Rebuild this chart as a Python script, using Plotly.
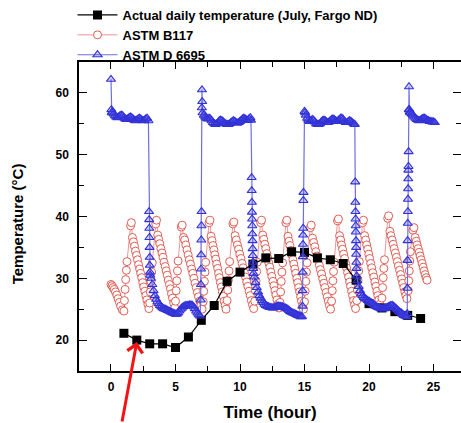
import plotly.graph_objects as go

# ---------------------------------------------------------------------------
# Actual hourly temperature, July, Fargo ND
actual_hour = [1, 2, 3, 4, 5, 6, 7, 8, 9, 10, 11, 12,
               13, 14, 15, 16, 17, 18, 19, 20, 21, 22, 23, 24]
actual_temp = [21.1, 20.0, 19.4, 19.4, 18.8, 20.5, 23.2, 25.6, 29.5, 31.0, 32.3, 33.3,
               33.2, 34.3, 34.2, 33.3, 33.0, 32.4, 29.7, 25.9, 25.2, 24.6, 24.0, 23.5]

# ASTM B117 cabinet log (time in hours, temperature in deg C)
b117_time = [
    0.00, 0.08, 0.16, 0.25, 0.35, 0.45, 0.55, 0.65, 0.75, 0.88, 1.00,
    1.04, 1.09, 1.14, 1.19, 1.24, 1.52, 1.58,
    1.66, 1.74, 1.82, 1.90, 1.98, 2.06, 2.14, 2.22, 2.30, 2.38, 2.46, 2.54, 2.62, 2.70, 2.78, 2.86, 2.94,
    3.00, 3.05, 3.10, 3.15, 3.20, 3.47, 3.53,
    3.62, 3.70, 3.78, 3.87, 3.95, 4.03, 4.11, 4.20, 4.28, 4.36, 4.44, 4.53, 4.61, 4.69, 4.77, 4.86, 4.94,
    5.00, 5.05, 5.10, 5.15, 5.20, 5.45, 5.52,
    5.62, 5.71, 5.80, 5.89, 5.98, 6.07, 6.16, 6.25, 6.34, 6.43, 6.52, 6.61, 6.70, 6.79, 6.88, 6.97, 7.06,
    7.14, 7.19, 7.24, 7.29, 7.34, 7.60, 7.67,
    7.76, 7.83, 7.90, 7.98, 8.05, 8.12, 8.19, 8.27, 8.34, 8.41, 8.48, 8.56, 8.63, 8.70, 8.77, 8.85, 8.92,
    9.00, 9.05, 9.10, 9.15, 9.20, 9.45, 9.52,
    9.62, 9.71, 9.80, 9.89, 9.98, 10.07, 10.16, 10.25, 10.34, 10.43, 10.52, 10.61, 10.70, 10.79, 10.88, 10.97, 11.06,
    11.14, 11.19, 11.24, 11.29, 11.34, 11.60, 11.67,
    11.76, 11.84, 11.92, 12.00, 12.08, 12.15, 12.23, 12.31, 12.39, 12.47, 12.55, 12.63, 12.71, 12.78, 12.86, 12.94, 13.02,
    13.10, 13.15, 13.20, 13.25, 13.30, 13.56, 13.63,
    13.72, 13.80, 13.87, 13.95, 14.02, 14.10, 14.17, 14.25, 14.32, 14.40, 14.47, 14.55, 14.62, 14.70, 14.77, 14.85, 14.92,
    15.00, 15.05, 15.10, 15.15, 15.20, 15.45, 15.52,
    15.62, 15.71, 15.80, 15.88, 15.97, 16.06, 16.15, 16.23, 16.32, 16.41, 16.50, 16.58, 16.67, 16.76, 16.85, 16.93, 17.02,
    17.10, 17.15, 17.20, 17.25, 17.30, 17.56, 17.63,
    17.72, 17.80, 17.87, 17.95, 18.03, 18.11, 18.19, 18.26, 18.34, 18.42, 18.50, 18.57, 18.65, 18.73, 18.81, 18.88, 18.96,
    19.05, 19.10, 19.15, 19.20, 19.25, 19.50, 19.57,
    19.66, 19.74, 19.82, 19.90, 19.98, 20.05, 20.13, 20.21, 20.29, 20.37, 20.45, 20.53, 20.61, 20.68, 20.76, 20.84, 20.92,
    21.00, 21.05, 21.10, 21.15, 21.20, 21.45, 21.52,
    21.62, 21.70, 21.79, 21.87, 21.95, 22.04, 22.12, 22.20, 22.28, 22.37, 22.45, 22.53, 22.61, 22.70, 22.78, 22.86, 22.94,
    23.04, 23.08, 23.12, 23.16, 23.20, 23.40, 23.48,
    23.58, 23.66, 23.73, 23.81, 23.89, 23.96, 24.04, 24.12, 24.20, 24.27, 24.35, 24.43, 24.50,
]
b117_temp = [
    29.0, 28.8, 28.5, 28.2, 27.8, 27.3, 26.7, 26.1, 25.5, 24.9, 24.7,
    26.4, 28.2, 29.8, 31.3, 32.7, 38.5, 39.0,
    36.6, 35.9, 35.2, 34.4, 33.7, 33.0, 32.2, 31.5, 30.8, 30.1, 29.3, 28.6, 27.9, 27.2, 26.5, 25.8, 25.1,
    26.0, 27.8, 29.5, 31.0, 32.5, 38.8, 39.4,
    37.0, 36.3, 35.6, 34.8, 34.1, 33.4, 32.6, 31.9, 31.2, 30.5, 29.7, 29.0, 28.3, 27.5, 26.8, 26.0, 25.2,
    26.3, 28.0, 29.6, 31.2, 32.8, 38.3, 38.6,
    36.6, 36.2, 35.4, 34.6, 33.8, 33.0, 32.3, 31.5, 30.8, 30.0, 29.2, 28.5, 27.7, 27.0, 26.3, 25.6, 25.0,
    26.2, 27.9, 29.5, 31.0, 32.6, 39.0, 39.4,
    36.8, 36.1, 35.3, 34.6, 33.8, 33.1, 32.3, 31.6, 30.8, 30.1, 29.3, 28.6, 27.8, 27.1, 26.3, 25.6, 25.0,
    26.4, 28.1, 29.7, 31.2, 32.7, 38.8, 39.1,
    36.9, 36.2, 35.4, 34.7, 33.9, 33.2, 32.4, 31.7, 30.9, 30.2, 29.4, 28.7, 27.9, 27.2, 26.4, 25.7, 25.1,
    26.3, 28.0, 29.6, 31.1, 32.6, 39.0, 39.4,
    37.0, 36.3, 35.5, 34.8, 34.0, 33.3, 32.5, 31.8, 31.0, 30.3, 29.5, 28.8, 28.0, 27.3, 26.5, 25.8, 25.2,
    26.1, 27.8, 29.5, 31.0, 32.5, 39.0, 39.4,
    36.8, 36.0, 35.3, 34.5, 33.8, 33.0, 32.3, 31.5, 30.8, 30.0, 29.3, 28.5, 27.8, 27.0, 26.3, 25.6, 25.0,
    26.2, 27.9, 29.5, 31.0, 32.5, 38.2, 38.6,
    36.5, 35.8, 35.1, 34.3, 33.6, 32.9, 32.1, 31.4, 30.7, 29.9, 29.2, 28.5, 27.7, 27.0, 26.3, 25.6, 25.0,
    26.3, 28.0, 29.6, 31.1, 32.6, 39.3, 39.6,
    36.9, 36.2, 35.4, 34.7, 33.9, 33.2, 32.4, 31.7, 30.9, 30.2, 29.4, 28.7, 27.9, 27.2, 26.4, 25.7, 25.1,
    26.4, 28.1, 29.7, 31.2, 32.7, 39.0, 39.4,
    36.9, 36.2, 35.4, 34.7, 33.9, 33.2, 32.4, 31.7, 30.9, 30.2, 29.4, 28.7, 27.9, 27.2, 26.5, 25.8, 25.3,
    26.8, 28.5, 30.1, 31.6, 33.0, 39.7, 40.1,
    37.6, 36.9, 36.2, 35.5, 34.8, 34.1, 33.4, 32.7, 32.0, 31.3, 30.6, 29.9, 29.2, 28.5, 27.8, 27.2, 26.7,
    28.0, 29.6, 31.2, 32.8, 34.3, 37.8, 38.2,
    36.6, 36.0, 35.4, 34.8, 34.2, 33.6, 33.0, 32.4, 31.8, 31.2, 30.6, 30.1, 29.7,
]

# ASTM D 6695 cabinet log (time in hours, temperature in deg C)
d6695_time = [
    0.00, 0.03, 0.06,
    0.10, 0.20, 0.30, 0.40, 0.50, 0.60, 0.70, 0.80, 0.90, 1.00, 1.10, 1.20, 1.30, 1.40, 1.50,
    1.60, 1.70, 1.80, 1.90, 2.00, 2.10, 2.20, 2.30, 2.40, 2.50, 2.60, 2.70, 2.80, 2.90,
    2.95, 2.96, 2.97, 2.98, 2.99, 3.00, 3.01, 3.02, 3.04,
    3.10, 3.20, 3.30, 3.40, 3.50, 3.60, 3.70, 3.80, 3.90, 4.00, 4.10, 4.20, 4.30, 4.40, 4.50,
    4.60, 4.70, 4.80, 4.90, 5.00, 5.10, 5.20, 5.30, 5.40, 5.50, 5.60, 5.70, 5.80, 5.90, 6.00,
    6.10, 6.20, 6.30, 6.40, 6.50, 6.60, 6.70, 6.80, 6.90,
    6.96, 6.97, 6.98, 6.99, 7.00, 7.01, 7.02, 7.04, 7.05, 7.07,
    7.10, 7.20, 7.30, 7.40, 7.50, 7.60, 7.70, 7.80, 7.90, 8.00, 8.10, 8.20, 8.30, 8.40, 8.50,
    8.60, 8.70, 8.80, 8.90, 9.00, 9.10, 9.20, 9.30, 9.40, 9.50, 9.60, 9.70, 9.80, 9.90, 10.00,
    10.10, 10.20, 10.30, 10.40, 10.50, 10.60, 10.70, 10.80, 10.85,
    10.90, 10.91, 10.92, 10.93, 10.94, 10.95, 10.96, 10.97, 10.98, 10.99, 11.00, 11.02, 11.05,
    11.10, 11.20, 11.30, 11.40, 11.50, 11.60, 11.70, 11.80, 11.90, 12.00, 12.10, 12.20, 12.30,
    12.40, 12.50, 12.60, 12.70, 12.80, 12.90, 13.00, 13.10, 13.20, 13.30, 13.40, 13.50, 13.60,
    13.70, 13.80, 13.90, 14.00, 14.10, 14.20, 14.30, 14.40, 14.50, 14.60, 14.70, 14.80,
    14.84, 14.85, 14.86, 14.87, 14.88, 14.89, 14.90, 14.91, 14.92,
    15.00, 15.05, 15.10, 15.20, 15.30, 15.40, 15.50, 15.60, 15.70, 15.80, 15.90, 16.00, 16.10,
    16.20, 16.30, 16.40, 16.50, 16.60, 16.70, 16.80, 16.90, 17.00, 17.10, 17.20, 17.30, 17.40,
    17.50, 17.60, 17.70, 17.80, 17.90, 18.00, 18.10, 18.20, 18.30, 18.40, 18.50, 18.60, 18.70,
    18.80, 18.90,
    18.93, 18.94, 18.95, 18.96, 18.97, 18.98, 18.99, 19.00, 19.01, 19.02, 19.03, 19.05,
    19.10, 19.20, 19.30, 19.40, 19.50, 19.60, 19.70, 19.80, 19.90, 20.00, 20.10, 20.20, 20.30,
    20.40, 20.50, 20.60, 20.70, 20.80, 20.90, 21.00, 21.10, 21.20, 21.30, 21.40, 21.50, 21.60,
    21.70, 21.80, 21.90, 22.00, 22.10, 22.20, 22.30, 22.40, 22.50, 22.60, 22.70, 22.80, 22.90,
    22.96, 22.97, 22.98, 22.99, 23.00, 23.01, 23.02, 23.03, 23.04, 23.05, 23.06, 23.07, 23.08,
    23.10, 23.13,
    23.15, 23.20, 23.30, 23.40, 23.50, 23.60, 23.70, 23.80, 23.90, 24.00, 24.10, 24.20, 24.30,
    24.40, 24.50, 24.60, 24.70, 24.80, 24.90, 25.00, 25.10,
]
d6695_temp = [
    62.2, 57.3, 56.8,
    56.9, 56.6, 56.3, 56.1, 56.0, 56.1, 56.3, 56.4, 56.3, 56.0, 55.8, 55.7, 55.8, 56.0, 56.1,
    56.0, 55.8, 55.6, 55.5, 55.6, 55.8, 55.9, 55.8, 55.6, 55.5, 55.6, 55.8, 55.9, 55.5,
    40.8, 39.5, 38.1, 36.6, 35.0, 33.4, 32.1, 31.0, 30.5,
    30.0, 29.0, 28.0, 27.2, 26.6, 26.2, 25.9, 25.6, 25.4, 25.2, 25.1, 25.0, 24.9, 24.8, 24.7,
    24.6, 24.5, 24.4, 24.3, 24.2, 24.2, 24.4, 24.7, 25.0, 25.2, 25.4, 25.5, 25.6, 25.6, 25.6,
    25.7, 25.7, 25.6, 25.4, 25.1, 24.7, 24.4, 24.1, 23.9,
    26.5, 29.0, 31.5, 33.8, 36.2, 38.5, 40.8, 57.6, 60.5, 58.6,
    56.8, 56.4, 56.1, 55.9, 55.8, 55.9, 55.8, 55.5, 55.2, 55.0, 54.9, 55.0, 55.2, 55.5, 55.6,
    55.5, 55.3, 55.1, 55.0, 54.9, 54.9, 55.0, 55.2, 55.4, 55.5, 55.4, 55.2, 55.1, 55.2, 55.4,
    55.6, 55.8, 55.9, 55.8, 55.6, 55.6, 55.8, 56.0, 55.6,
    46.3, 44.2, 42.3, 40.7, 39.6, 38.5, 37.2, 36.1, 34.8, 33.7, 32.6, 31.6, 30.8,
    30.2, 29.3, 28.5, 27.8, 27.2, 26.8, 26.4, 26.1, 25.8, 25.6, 25.5, 25.4, 25.3,
    25.3, 25.2, 25.2, 25.3, 25.4, 25.5, 25.5, 25.5, 25.4, 25.4, 25.3, 25.2, 25.1,
    25.0, 24.8, 24.6, 24.5, 24.4, 24.3, 24.2, 24.1, 24.0, 23.9, 23.8, 23.8,
    25.5, 28.0, 31.0, 33.5, 35.5, 37.0, 38.1, 42.6, 43.9,
    57.0, 56.8, 56.4, 55.9, 55.6, 55.4, 55.5, 55.7, 55.6, 55.3, 55.0, 54.9, 54.9,
    55.0, 55.3, 55.5, 55.6, 55.5, 55.3, 55.2, 55.3, 55.5, 55.7, 55.8, 55.7, 55.5,
    55.4, 55.5, 55.7, 55.9, 55.9, 55.7, 55.4, 55.2, 55.2, 55.4, 55.5, 55.4, 55.2,
    55.0, 54.9,
    45.6, 42.3, 40.8, 39.6, 38.5, 37.5, 36.1, 35.0, 33.9, 32.6, 31.6, 30.4,
    29.6, 28.7, 28.0, 27.5, 27.2, 26.9, 26.7, 26.6, 26.4, 26.3, 26.1, 26.0, 25.9,
    25.7, 25.5, 25.4, 25.3, 25.2, 25.1, 25.1, 25.1, 25.1, 25.2, 25.3, 25.4, 25.5,
    25.6, 25.6, 25.5, 25.3, 25.1, 24.9, 24.7, 24.5, 24.4, 24.2, 24.0, 23.9, 23.8,
    24.3, 28.4, 32.9, 36.1, 38.9, 40.8, 42.8, 44.5, 46.1, 47.5, 48.1, 50.5, 57.3,
    61.0, 57.3,
    56.9, 56.8, 56.6, 56.4, 56.1, 55.9, 55.7, 55.6, 55.5, 55.6, 55.8, 55.9, 55.9,
    55.8, 55.6, 55.5, 55.4, 55.4, 55.3, 55.3, 55.2,
]

x_ticks = [0, 5, 10, 15, 20, 25]
y_ticks = [20, 30, 40, 50, 60]

# ---------------------------------------------------------------------------
BOLD = dict(family="Arial, 'Liberation Sans', sans-serif", color="black", weight="bold")

fig = go.Figure()

fig.add_trace(go.Scatter(
    x=b117_time, y=b117_temp, name="ASTM B117", mode="lines+markers",
    line=dict(color="rgb(236,150,150)", width=1),
    marker=dict(symbol="circle", size=8, color="white",
                line=dict(color="rgb(222,95,85)", width=1)),
    legendrank=2,
))

fig.add_trace(go.Scatter(
    x=actual_hour, y=actual_temp, name="Actual daily temperature (July, Fargo ND)",
    mode="lines+markers",
    line=dict(color="black", width=1.2),
    marker=dict(symbol="square", size=9, color="black"),
    legendrank=1,
))

fig.add_trace(go.Scatter(
    x=d6695_time, y=d6695_temp, name="ASTM D 6695", mode="lines+markers",
    line=dict(color="rgb(110,110,225)", width=1.2),
    marker=dict(symbol="triangle-up", size=8, color="rgba(80,80,230,0.28)",
                line=dict(color="rgb(50,50,215)", width=1.1)),
    legendrank=3,
))

# red pointer at the 2 h reading
fig.add_annotation(
    x=actual_hour[1], y=actual_temp[1] - 0.3, xref="x", yref="y",
    ax=-15, ay=82, text="", showarrow=True,
    arrowhead=4, arrowsize=1, arrowwidth=3, arrowcolor="rgb(240,20,20)",
)

# vertical axis title
fig.add_annotation(
    text="Temperature (°C)", textangle=-90, xref="paper", yref="paper",
    x=-0.162, y=0.475, xanchor="center", yanchor="middle", showarrow=False,
    font=dict(size=15, **BOLD),
)

axis_common = dict(showgrid=False, zeroline=False, showline=True, linecolor="black",
                   linewidth=1.5, ticks="inside", tickcolor="black", tickwidth=1.3,
                   tickfont=dict(size=12, **BOLD))

fig.update_xaxes(
    range=[-2.48, 27.13], tickvals=x_ticks, ticklen=7, mirror="ticks",
    minor=dict(dtick=2.5, tick0=0, ticks="inside", ticklen=5, tickcolor="black", tickwidth=1.3),
    title=dict(text="Time (hour)", font=dict(size=17, **BOLD), standoff=13),
    ticklabelstandoff=4,
    **axis_common,
)
fig.update_yaxes(
    range=[15, 65], tickvals=y_ticks, ticklen=8,
    minor=dict(dtick=5, tick0=0, ticks="inside", ticklen=5, tickcolor="black", tickwidth=1.3),
    ticklabelstandoff=6,
    **axis_common,
)

# right-hand tick marks (axis line itself falls outside the frame)
fig.update_layout(yaxis2=dict(
    overlaying="y", side="right", range=[15, 65], tickvals=y_ticks, ticks="inside",
    ticklen=8, tickwidth=1.3, tickcolor="black", showticklabels=False, showline=False,
    showgrid=False, zeroline=False,
    minor=dict(dtick=5, tick0=0, ticks="inside", ticklen=5, tickcolor="black", tickwidth=1.3),
))
fig.add_trace(go.Scatter(x=[None], y=[None], yaxis="y2", showlegend=False, hoverinfo="skip"))

fig.update_layout(
    width=461, height=423,
    margin=dict(l=79, r=0, t=61, b=52),
    paper_bgcolor="white", plot_bgcolor="white",
    showlegend=True,
    legend=dict(x=-0.017, xanchor="left", y=1.202, yanchor="top",
                font=dict(size=13, **BOLD), bgcolor="rgba(0,0,0,0)",
                tracegroupgap=0, itemwidth=40),
)

fig.write_html("out.html")
